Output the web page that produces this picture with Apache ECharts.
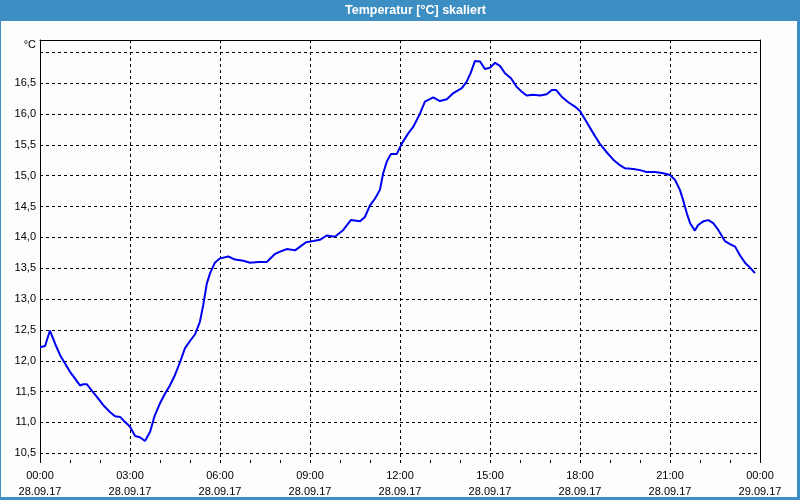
<!DOCTYPE html>
<html>
<head>
<meta charset="utf-8">
<script src="https://cdn.jsdelivr.net/npm/echarts@6/dist/echarts.min.js"></script>
<style>
html,body{margin:0;padding:0;background:#fcfdfc;}
#chart{width:800px;height:500px;}
</style>
</head>
<body>
<div id="chart"></div>
<script>
// Time of day in hours since 28.09.17 00:00
const hours = [
  0.00,0.17,0.33,0.50,0.67,0.83,1.00,1.17,1.33,1.44,1.56,1.72,1.89,2.11,2.33,2.50,2.67,2.83,
  3.00,3.17,3.33,3.50,3.67,3.83,4.00,4.17,4.33,4.50,4.67,4.83,5.00,5.17,5.33,5.44,5.56,5.67,5.83,
  6.00,6.28,6.50,6.78,7.00,7.28,7.56,7.83,8.06,8.22,8.50,8.67,8.87,9.11,9.33,9.56,9.83,
  10.11,10.36,10.67,10.83,11.00,11.17,11.33,11.44,11.56,11.70,11.89,12.06,12.28,12.44,12.67,12.83,
  13.11,13.33,13.56,13.78,14.06,14.22,14.36,14.50,14.67,14.83,15.00,15.17,15.33,15.50,15.70,15.89,
  16.06,16.22,16.44,16.67,16.89,17.06,17.20,17.39,17.61,17.83,18.00,18.22,18.44,18.67,18.89,
  19.11,19.33,19.50,19.78,20.00,20.22,20.50,20.78,21.00,21.17,21.33,21.44,21.56,21.67,21.83,21.94,
  22.11,22.28,22.44,22.61,22.83,23.00,23.17,23.33,23.50,23.67,23.83
];
// Temperature in °C
const temps = [
  12.22,12.24,12.49,12.28,12.09,11.96,11.82,11.71,11.60,11.62,11.62,11.52,11.42,11.28,11.17,11.10,11.09,11.01,
  10.93,10.78,10.76,10.70,10.85,11.12,11.31,11.47,11.60,11.77,11.98,12.20,12.32,12.43,12.63,12.90,13.25,13.42,13.59,
  13.66,13.69,13.64,13.62,13.59,13.60,13.60,13.73,13.78,13.81,13.79,13.85,13.92,13.94,13.96,14.03,14.01,
  14.12,14.28,14.26,14.33,14.52,14.63,14.77,15.04,15.23,15.35,15.35,15.52,15.69,15.79,16.01,16.20,
  16.27,16.21,16.24,16.34,16.42,16.52,16.67,16.86,16.85,16.73,16.75,16.83,16.78,16.66,16.58,16.44,
  16.36,16.30,16.31,16.30,16.32,16.39,16.39,16.28,16.19,16.12,16.05,15.87,15.69,15.51,15.38,
  15.26,15.17,15.12,15.11,15.09,15.06,15.06,15.04,15.01,14.93,14.77,14.60,14.39,14.23,14.11,14.20,
  14.26,14.28,14.23,14.12,13.94,13.89,13.85,13.71,13.59,13.51,13.42
];
// Tick labels every 3 hours
const timeLabels = ['00:00','03:00','06:00','09:00','12:00','15:00','18:00','21:00','00:00'];
const dateLabels = ['28.09.17','28.09.17','28.09.17','28.09.17','28.09.17','28.09.17','28.09.17','28.09.17','29.09.17'];
const yMin = 10.5, yMax = 17.0, yStep = 0.5;

const FONT = 'Liberation Sans';
const chart = echarts.init(document.getElementById('chart'), null, {renderer:'canvas'});
const dash = {type:[3,3], color:'#000', width:1};
chart.setOption({
  animation:false,
  backgroundColor:'#fcfdfc',
  title:{
    text:'Temperatur [°C] skaliert',
    left:345, top:0, padding:[4,0],
    textStyle:{color:'#ffffff', fontWeight:'bold', fontSize:12.5, fontFamily:FONT}
  },
  graphic:[
    {type:'rect', left:0, top:0, z:0, shape:{width:800, height:21}, style:{fill:'#3d8fc3'}},
    {type:'rect', left:0, top:21, z:0, shape:{width:1, height:479}, style:{fill:'#3d8fc3'}},
    {type:'rect', left:797, top:21, z:0, shape:{width:3, height:479}, style:{fill:'#3d8fc3'}},
    {type:'rect', left:0, top:497, z:0, shape:{width:800, height:3}, style:{fill:'#3d8fc3'}}
  ],
  grid:[
    {left:40, right:40, top:40, bottom:40},
    {left:40, right:40, top:52.3, bottom:46.7}
  ],
  xAxis:[
    {gridIndex:0, type:'value', min:0, max:24, interval:1, position:'bottom',
     axisLine:{show:false, onZero:false},
     axisTick:{show:true, length:3, lineStyle:{color:'#000'}},
     splitLine:{show:false},
     axisLabel:{
       margin:8, fontSize:11, fontFamily:FONT, color:'#000', lineHeight:16,
       formatter:function(v){ if (v % 3 !== 0) return ''; const i = v/3; return timeLabels[i] + '\n' + dateLabels[i]; }
     }},
    {gridIndex:0, type:'value', min:0, max:24, interval:3, position:'top',
     axisLine:{show:true, onZero:false, lineStyle:{color:'#000', width:1}},
     axisTick:{show:false}, axisLabel:{show:false},
     splitLine:{show:true, lineStyle:dash}},
    {gridIndex:1, type:'value', min:0, max:24, show:false}
  ],
  yAxis:[
    {gridIndex:0, type:'value', min:0, max:1, position:'left',
     axisLine:{show:true, onZero:false, lineStyle:{color:'#000', width:1}},
     axisTick:{show:false}, axisLabel:{show:false}, splitLine:{show:false}},
    {gridIndex:0, type:'value', min:0, max:1, position:'right',
     axisLine:{show:true, onZero:false, lineStyle:{color:'#000', width:1}},
     axisTick:{show:false}, axisLabel:{show:false}, splitLine:{show:false}},
    {gridIndex:1, type:'value', min:yMin, max:yMax, interval:yStep, position:'left',
     name:'°C', nameLocation:'end', nameGap:2,
     nameTextStyle:{fontSize:11, fontFamily:FONT, color:'#000', align:'right', verticalAlign:'bottom', padding:[0,4,0,0]},
     axisLine:{show:false, onZero:false}, axisTick:{show:false},
     axisLabel:{margin:4, fontSize:11, fontFamily:FONT, color:'#000',
       formatter:function(v){ return Math.abs(v - yMax) < 1e-6 ? '' : v.toFixed(1).replace('.', ','); }},
     splitLine:{show:true, lineStyle:dash}}
  ],
  series:[{
    type:'line', xAxisIndex:2, yAxisIndex:2,
    data: hours.map(function(h, i){ return [h, temps[i]]; }),
    showSymbol:false, symbol:'none',
    lineStyle:{color:'#0000f0', width:2},
    z:5
  }]
});
</script>
</body>
</html>
